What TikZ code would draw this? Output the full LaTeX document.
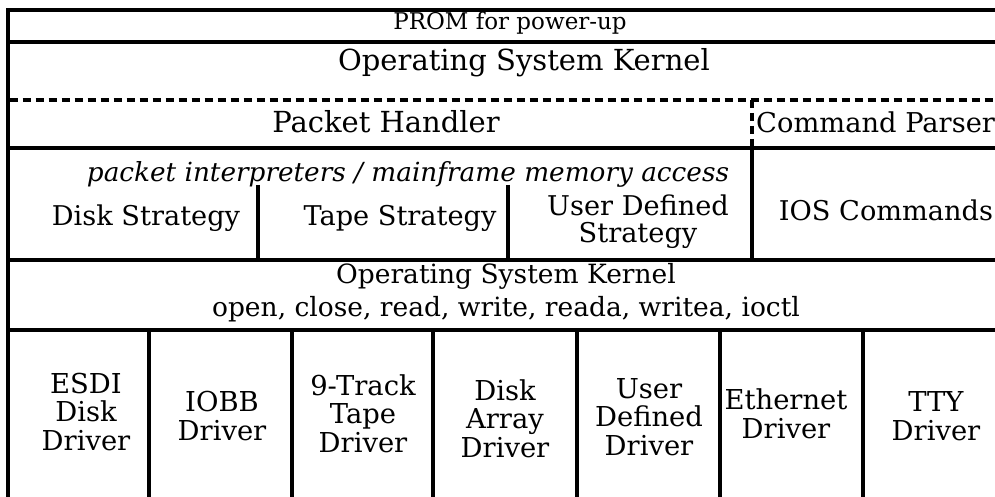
\documentclass[tikz,border=0pt]{standalone}
\usepackage{fontspec}
\setmainfont{DejaVu Serif}
\begin{document}
\begin{tikzpicture}[x=1pt,y=-1pt,
  rule/.style={line width=3.3pt},
  druled/.style={line width=3.3pt,dash pattern=on 8pt off 5pt},
  big/.style={font=\fontsize{29}{32}\selectfont, inner sep=0pt},
  mid/.style={font=\fontsize{27.2}{27}\selectfont, inner sep=0pt, align=center},
  small/.style={font=\fontsize{23}{25}\selectfont, inner sep=0pt},
  drv/.style={font=\fontsize{27.4}{28.5}\selectfont, inner sep=0pt, align=center}]
\useasboundingbox (0,0) rectangle (995,497);
% frame lines
\draw[rule] (8,10) -- (995,10);
\draw[rule] (8,42) -- (995,42);
\draw[rule] (8,8.4) -- (8,497);
\draw[druled] (9.6,100) -- (995,100);
\draw[druled] (752,100) -- (752,148);
\draw[rule] (8,148) -- (995,148);
\draw[rule] (752,148) -- (752,260);
\draw[rule] (258,185) -- (258,260);
\draw[rule] (508,185) -- (508,260);
\draw[rule] (8,260) -- (995,260);
\draw[rule] (8,330) -- (995,330);
\foreach \x in {149,292,433,577,720,863} \draw[rule] (\x,330) -- (\x,497);
% texts
\node[small, anchor=base] (prom) at (510,30) {PROM for power-up};
\node[big, anchor=base] (osk) at (524,71) {Operating System Kernel};
\node[big, anchor=base] (ph) at (386,133) {Packet Handler};
\node[big, anchor=base west, font=\fontsize{27.3}{30}\selectfont] (cp) at (756,133) {Command Parser};
\node[inner sep=0pt, anchor=base, font=\itshape\fontsize{26.3}{28}\selectfont] (pi) at (408,182) {packet interpreters / mainframe memory access};
\node[mid, anchor=base] (ds) at (146,225) {Disk Strategy};
\node[mid, anchor=base] (ts) at (400,225) {Tape Strategy};
\node[mid, anchor=base] (us) at (638,242) {User Defined\\Strategy};
\node[mid, anchor=base] (ios) at (886,220) {IOS Commands};
\node[mid, anchor=base, font=\fontsize{26.5}{33}\selectfont] (osk2) at (506,316) {Operating System Kernel\\open, close, read, write, reada, writea, ioctl};
\node[drv, anchor=base] (esdi) at (86,450) {ESDI\\Disk\\Driver};
\node[drv, anchor=base] (iobb) at (222,440) {IOBB\\Driver};
\node[drv, anchor=base] (ntt) at (363,452) {9-Track\\Tape\\Driver};
\node[drv, anchor=base] (dad) at (505,457) {Disk\\Array\\Driver};
\node[drv, anchor=base] (udd) at (649,455) {User\\Defined\\Driver};
\node[drv, anchor=base] (eth) at (786,438) {Ethernet\\Driver};
\node[drv, anchor=base] (tty) at (936,440) {TTY\\Driver};
\end{tikzpicture}
\end{document}
